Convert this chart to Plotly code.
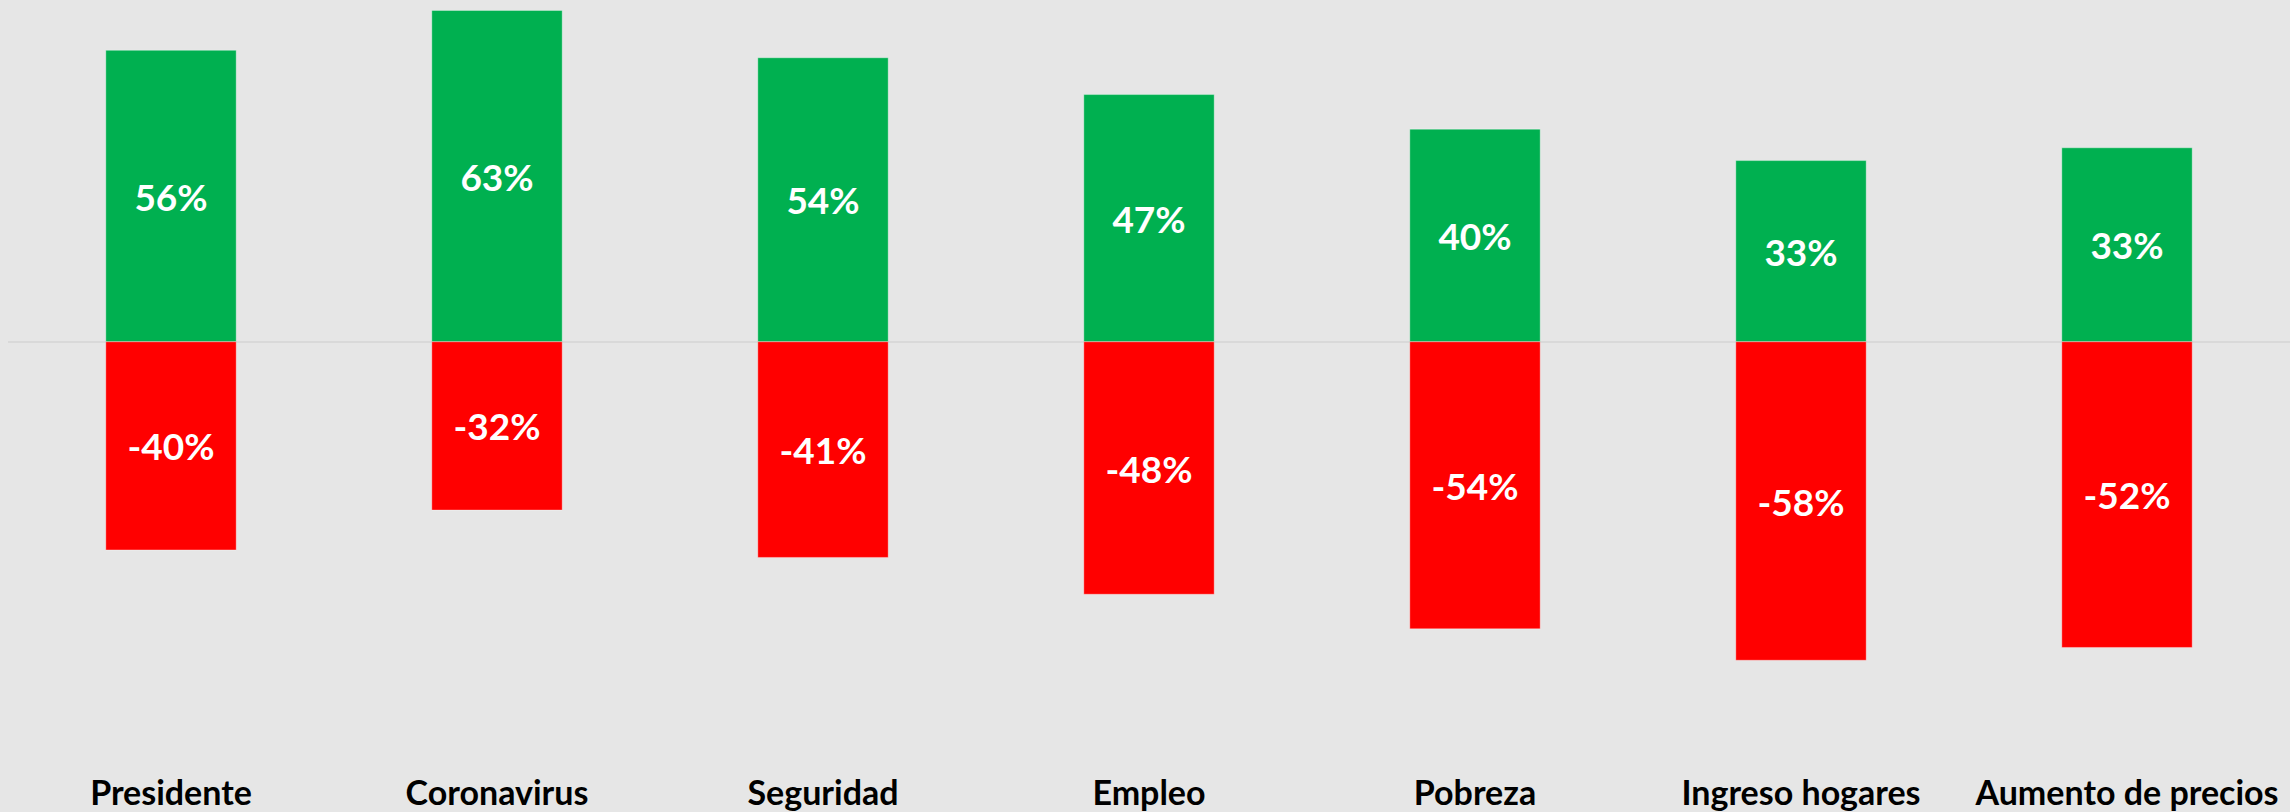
import plotly.graph_objects as go

categories = ["Presidente", "Coronavirus", "Seguridad", "Empleo", "Pobreza",
              "Ingreso hogares", "Aumento de precios"]
aprueba = [56, 63, 54, 47, 40, 33, 33]
desaprueba = [-40, -32, -41, -48, -54, -58, -52]

# 100% stacked: each column's bars are shares of (positive + |negative|)
totals = [p + abs(n) for p, n in zip(aprueba, desaprueba)]
pos_share = [p / t * 100 for p, t in zip(aprueba, totals)]
neg_share = [n / t * 100 for n, t in zip(desaprueba, totals)]
pos_text = [f"{p}%" for p in aprueba]
neg_text = [f"{n}%" for n in desaprueba]

GREEN = "#00B050"
RED = "#FF0000"
BG = "#E6E6E6"

label_font = dict(family="Lato", size=37, color="white", weight="bold")

fig = go.Figure()
fig.add_trace(go.Bar(
    x=categories, y=pos_share, text=pos_text,
    marker=dict(color=GREEN, line=dict(color="rgba(255,255,255,0.35)", width=1)),
    textposition="inside", insidetextanchor="middle", textangle=0,
    insidetextfont=label_font, hoverinfo="skip",
))
fig.add_trace(go.Bar(
    x=categories, y=neg_share, text=neg_text,
    marker=dict(color=RED, line=dict(color="rgba(255,255,255,0.35)", width=1)),
    textposition="inside", insidetextanchor="middle", textangle=0,
    insidetextfont=label_font, hoverinfo="skip",
))

fig.update_layout(
    width=2290, height=812,
    barmode="relative", bargap=0.6,
    paper_bgcolor=BG, plot_bgcolor=BG,
    showlegend=False,
    margin=dict(l=8, r=0, t=0, b=40),
    xaxis=dict(showgrid=False, showline=False, ticks="", zeroline=False,
               tickfont=dict(family="Lato", size=34, color="black", weight="bold"),
               range=[-0.5, 6.5]),
    yaxis=dict(range=[-85.7, 68.4], showgrid=False, showticklabels=False,
               zeroline=True, zerolinecolor="#D9D9D9", zerolinewidth=2,
               showline=False, ticks=""),
)

fig.write_html(
    "out.html",
    config={"displayModeBar": False},
    post_script="document.body.style.margin='0';document.body.style.overflow='hidden';",
)
